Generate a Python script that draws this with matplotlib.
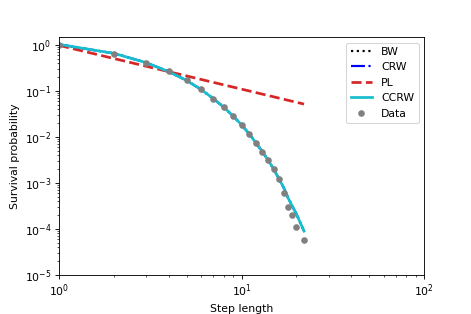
import matplotlib
matplotlib.use("Agg")
import matplotlib.pyplot as plt
import numpy as np

step = [1, 2, 3, 4, 5, 6, 7, 8, 9, 10, 11, 12, 13, 14, 15, 16, 17, 18, 19, 20, 22]
data_surv = [1.0, 0.63, 0.406, 0.263, 0.168, 0.107, 0.068, 0.0441, 0.0281, 0.01824,
             0.01162, 0.00728, 0.0048, 0.00311, 0.00201, 0.00122, 0.000617, 0.000306,
             0.000198, 0.000112, 5.67e-5]
ccrw = [1.02, 0.65, 0.41, 0.26, 0.168, 0.107, 0.068, 0.044, 0.0283, 0.0183,
        0.0117, 0.0074, 0.0048, 0.0031, 0.0020, 0.00125, 0.00080, 0.00047,
        0.00031, 0.00021, 0.00009]
pl_amp = 0.97
pl_exp = -0.95
pl = [pl_amp * x ** pl_exp for x in step]

fig = plt.figure(figsize=(6, 4), dpi=78.5)
ax = fig.add_axes([0.1253, 0.124, 0.775, 0.758])
ax.plot(step, ccrw, ':', color='black', lw=2, label='BW')
ax.plot(step, ccrw, '-.', color='blue', lw=2, label='CRW')
ax.plot(step, pl, '--', color='#d62728', lw=2.5, label='PL')
ax.plot(step, ccrw, '-', color='#17becf', lw=2.5, label='CCRW')
ax.plot(step, data_surv, 'o', color='grey', ms=5, label='Data')
ax.set_xscale('log')
ax.set_yscale('log')
ax.set_xlim(1, 100)
ax.set_ylim(1e-5, 1.47)
ax.set_xlabel('Step length')
ax.set_ylabel('Survival probability')
ax.legend(loc='upper right')
fig.savefig('out.png', dpi=78.5)
